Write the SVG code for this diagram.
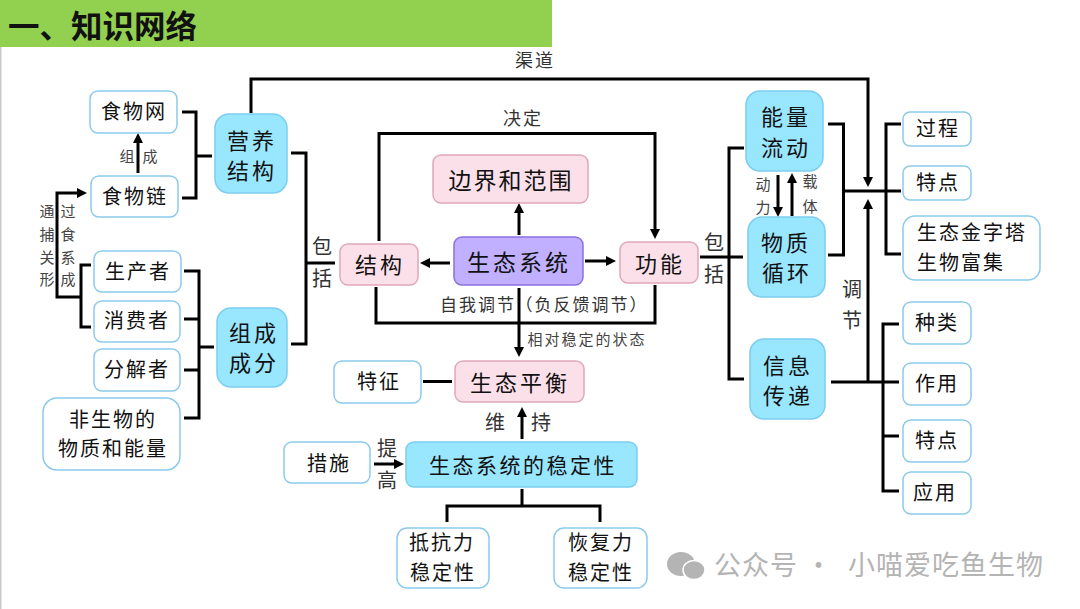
<svg xmlns="http://www.w3.org/2000/svg" width="1080" height="609" viewBox="0 0 1080 609">
<style>
text{font-family:"Noto Sans CJK SC","Noto Sans",sans-serif;fill:#111;text-anchor:middle;dominant-baseline:central;transform:translateY(-1.5px)}
.t20{font-size:20px;letter-spacing:2px}
.t22{font-size:22px;letter-spacing:3px}
.t23{font-size:23px;letter-spacing:3px}
.l{font-size:18px;fill:#333;letter-spacing:2px}
.m{font-size:20px;fill:#333}
.s{font-size:15px;fill:#444}
.c{fill:none;stroke:#000;stroke-width:3}
.w{fill:#fff;stroke:#8ccaeb;stroke-width:1.500}
.b{fill:#99e6ff;stroke:#7ccdf0;stroke-width:1.500}
.p{fill:#fbe0ea;stroke:#e0a8bd;stroke-width:1.500}
.v{fill:#c0b0ff;stroke:#8a70e0;stroke-width:1.500}
.wm{font-size:27px;fill:#b4b4b4;text-anchor:start;letter-spacing:1px}
</style>
<defs>
<marker id="a" viewBox="0 0 10 10" markerWidth="10" markerHeight="10" markerUnits="userSpaceOnUse" refX="6" refY="5" orient="auto"><path d="M0 0L10 5L0 10Z" fill="#000"/></marker>
</defs>
<rect width="1080" height="609" fill="#fff"/>
<rect x="0" y="47" width="1.500" height="562" fill="#c8c8c8"/>
<rect width="552" height="47" fill="#92d050"/>
<text x="8" y="25" style="font-size:31.500px;font-weight:700;text-anchor:start;fill:#111">一、知识网络</text>

<g id="connectors">
<path class="c" marker-end="url(#a)" d="M251 113V79H868V183"/>
<path class="c" marker-end="url(#a)" d="M868 382V203"/>
<path class="c" d="M828 124H843.500V255H828M843.500 191H901M901 124H886V254H901"/>
<path class="c" d="M744 148H729V379H744M700 257H743"/>
<path class="c" d="M831 382H899M899 324H883V491H899M883 436H899"/>
<path class="c" d="M291 153H306V344H291M306 263H335"/>
<path class="c" d="M182 112H196V198H182M196 156H212"/>
<path class="c" marker-end="url(#a)" d="M138 173V137"/>
<path class="c" marker-end="url(#a)" d="M81 297H57V193H83"/>
<path class="c" d="M91 265H81V327H91"/>
<path class="c" d="M184 271H199V418H184M184 319H199M184 370H199M199 347H214"/>
<path class="c" marker-end="url(#a)" d="M379 241V133.500H655V235"/>
<path class="c" marker-end="url(#a)" d="M519 235V207"/>
<path class="c" marker-end="url(#a)" d="M450 263H424"/>
<path class="c" marker-end="url(#a)" d="M585 261H612"/>
<path class="c" d="M376 287V323H655V285"/>
<path class="c" marker-end="url(#a)" d="M519 288V353"/>
<path class="c" d="M423 381.500H452"/>
<path class="c" marker-end="url(#a)" d="M522 439V411"/>
<path class="c" marker-end="url(#a)" d="M374 464H400"/>
<path class="c" d="M522 489V506M447 522V506H600V522"/>
<path class="c" marker-end="url(#a)" d="M778 175V213"/>
<path class="c" marker-end="url(#a)" d="M792 216V177"/>
</g>

<g id="n-swn"><rect class="w" x="90" y="91" width="87" height="42" rx="8"/><text class="t20" x="134" y="112">食物网</text></g>
<g id="n-swl"><rect class="w" x="91" y="176" width="87" height="41" rx="8"/><text class="t20" x="135" y="197">食物链</text></g>
<g id="n-yyjg"><rect class="b" x="215" y="114" width="72" height="79" rx="14"/><text class="t22" x="252" y="140">营养</text><text class="t22" x="252" y="170">结构</text></g>
<g id="n-scz"><rect class="w" x="94" y="251" width="87" height="41" rx="8"/><text class="t20" x="138" y="272">生产者</text></g>
<g id="n-xfz"><rect class="w" x="94" y="301" width="86" height="41" rx="8"/><text class="t20" x="137" y="321">消费者</text></g>
<g id="n-fjz"><rect class="w" x="94" y="349" width="86" height="42" rx="8"/><text class="t20" x="137" y="370">分解者</text></g>
<g id="n-fsw"><rect class="w" x="43" y="398" width="137" height="72" rx="14"/><text class="t20" x="113" y="420">非生物的</text><text class="t20" x="113" y="449">物质和能量</text></g>
<g id="n-zccf"><rect class="b" x="217" y="308" width="70" height="79" rx="14"/><text class="t22" x="254" y="332">组成</text><text class="t22" x="254" y="362">成分</text></g>

<g id="n-jg"><rect class="p" x="340" y="244" width="78" height="41" rx="8"/><text class="t22" x="380" y="264">结构</text></g>
<g id="n-stxt"><rect class="v" x="454" y="237" width="129" height="48" rx="8"/><text class="t23" x="519" y="262">生态系统</text></g>
<g id="n-bj"><rect class="p" x="433" y="155" width="155" height="48" rx="8"/><text class="t23" x="511" y="180" style="letter-spacing:2px">边界和范围</text></g>
<g id="n-gn"><rect class="p" x="620" y="242" width="78" height="41" rx="8"/><text class="t22" x="660" y="263">功能</text></g>
<g id="n-stph"><rect class="p" x="455" y="361" width="129" height="41" rx="8"/><text class="t22" x="520" y="382">生态平衡</text></g>
<g id="n-tz"><rect class="w" x="334" y="361" width="87" height="42" rx="8"/><text class="t20" x="379" y="382">特征</text></g>
<g id="n-cs"><rect class="w" x="284" y="442" width="86" height="41" rx="8"/><text class="t20" x="329" y="464">措施</text></g>
<g id="n-wdx"><rect class="b" x="406" y="442" width="231" height="45" rx="8"/><text class="t20" x="523" y="465" style="font-size:21px;letter-spacing:2.500px">生态系统的稳定性</text></g>
<g id="n-dkl"><rect class="w" x="397" y="528" width="92" height="60" rx="10"/><text class="t20" x="442" y="543">抵抗力</text><text class="t20" x="443" y="573">稳定性</text></g>
<g id="n-hfl"><rect class="w" x="554" y="528" width="93" height="60" rx="10"/><text class="t20" x="601" y="543">恢复力</text><text class="t20" x="601" y="573">稳定性</text></g>

<g id="n-nl"><rect class="b" x="746" y="91" width="77" height="80" rx="14"/><text class="t22" x="786" y="116">能量</text><text class="t22" x="786" y="147">流动</text></g>
<g id="n-wz"><rect class="b" x="748" y="217" width="77" height="80" rx="14"/><text class="t22" x="786" y="242">物质</text><text class="t22" x="787" y="272">循环</text></g>
<g id="n-xx"><rect class="b" x="750" y="339" width="75" height="80" rx="14"/><text class="t22" x="788" y="365">信息</text><text class="t22" x="788" y="395">传递</text></g>
<g id="n-gc"><rect class="w" x="903" y="112" width="68" height="34" rx="7"/><text class="t20" x="938" y="129">过程</text></g>
<g id="n-td1"><rect class="w" x="903" y="166" width="68" height="34" rx="7"/><text class="t20" x="938" y="183">特点</text></g>
<g id="n-jzt"><rect class="w" x="903" y="216" width="137" height="64" rx="12"/><text class="t20" x="917" y="233" style="text-anchor:start">生态金字塔</text><text class="t20" x="917" y="263" style="text-anchor:start">生物富集</text></g>
<g id="n-zl"><rect class="w" x="903" y="302" width="68" height="42" rx="8"/><text class="t20" x="937" y="323">种类</text></g>
<g id="n-zy"><rect class="w" x="903" y="363" width="68" height="42" rx="8"/><text class="t20" x="937" y="384">作用</text></g>
<g id="n-td2"><rect class="w" x="903" y="420" width="68" height="42" rx="8"/><text class="t20" x="937" y="441">特点</text></g>
<g id="n-yy"><rect class="w" x="903" y="472" width="68" height="42" rx="8"/><text class="t20" x="935" y="493">应用</text></g>

<g id="labels">
<text class="l" x="535" y="60">渠道</text>
<text class="l" x="523" y="118">决定</text>
<text class="s" x="127" y="157">组</text><text class="s" x="150" y="157">成</text>
<text class="s" x="47" y="212">通</text><text class="s" x="47" y="235">捕</text><text class="s" x="47" y="258">关</text><text class="s" x="47" y="280">形</text>
<text class="s" x="68" y="212">过</text><text class="s" x="68" y="235">食</text><text class="s" x="68" y="258">系</text><text class="s" x="68" y="280">成</text>
<text class="m" x="322" y="247">包</text><text class="m" x="322" y="279">括</text>
<text class="m" x="714" y="243">包</text><text class="m" x="714" y="275">括</text>
<text class="m" x="852" y="290">调</text><text class="m" x="852" y="321">节</text>
<text class="l" x="478" y="305" style="font-size:17px">自我调节</text>
<text class="l" x="582" y="305" style="font-size:17px">（负反馈调节）</text>
<text class="s" x="587" y="340" style="letter-spacing:2px">相对稳定的状态</text>
<text class="s" x="763" y="185">动</text><text class="s" x="763" y="208">力</text>
<text class="s" x="810" y="182">载</text><text class="s" x="810" y="207">体</text>
<text class="m" x="495" y="423">维</text><text class="m" x="541" y="423">持</text>
<text class="m" x="387" y="449">提</text><text class="m" x="387" y="481">高</text>
</g>

<g id="watermark">
<ellipse cx="681" cy="564" rx="14" ry="12" fill="#b4b4b4"/>
<ellipse cx="694" cy="570" rx="11" ry="9.500" fill="#b4b4b4" stroke="#fff" stroke-width="1.500"/>
<text class="wm" x="714" y="565">公众号 ·</text>
<text class="wm" x="848" y="565">小喵爱吃鱼生物</text>
</g>
</svg>
